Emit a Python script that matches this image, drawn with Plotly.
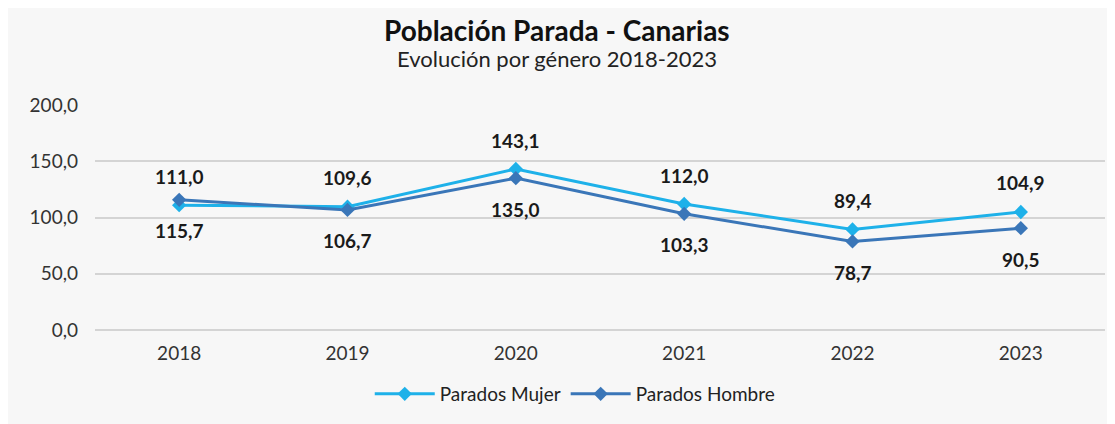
import plotly.graph_objects as go

years = [2018, 2019, 2020, 2021, 2022, 2023]
mujer = [111.0, 109.6, 143.1, 112.0, 89.4, 104.9]
hombre = [115.7, 106.7, 135.0, 103.3, 78.7, 90.5]

c_mujer = "#1eb1e9"
c_hombre = "#3a76b8"
font = "Lato"

fig = go.Figure()
fig.add_trace(go.Scatter(x=years, y=mujer, name="Parados Mujer", mode="lines+markers",
                         line=dict(color=c_mujer, width=3),
                         marker=dict(symbol="diamond", size=11, color=c_mujer)))
fig.add_trace(go.Scatter(x=years, y=hombre, name="Parados Hombre", mode="lines+markers",
                         line=dict(color=c_hombre, width=3),
                         marker=dict(symbol="diamond", size=11, color=c_hombre)))

for x, v in zip(years, mujer):
    fig.add_annotation(x=x, y=v, text=f"{v:.1f}".replace(".", ","), showarrow=False,
                       yshift=29, font=dict(family=font, size=19, color="#1a1a1a", weight="bold"))
for x, v in zip(years, hombre):
    fig.add_annotation(x=x, y=v, text=f"{v:.1f}".replace(".", ","), showarrow=False,
                       yshift=-31, font=dict(family=font, size=19, color="#1a1a1a", weight="bold"))

fig.add_annotation(x=0.457, y=1, xref="paper", yref="paper", xanchor="center", yanchor="middle",
                   yshift=75, showarrow=False, text="<b>Población Parada - Canarias</b>",
                   font=dict(family=font, size=28, color="#111"))
fig.add_annotation(x=0.457, y=1, xref="paper", yref="paper", xanchor="center", yanchor="middle",
                   yshift=47, showarrow=False, text="Evolución por género 2018-2023",
                   font=dict(family=font, size=22, color="#222"))

fig.update_layout(
    width=1115, height=424,
    paper_bgcolor="#f7f7f7", plot_bgcolor="#f7f7f7",
    margin=dict(l=87, r=18, t=97, b=102),
    separators=",.",
    showlegend=True,
    legend=dict(orientation="h", x=0.475, xanchor="center", y=-0.2, yanchor="top",
                font=dict(family=font, size=19, color="#222"), bgcolor="rgba(0,0,0,0)",
                itemwidth=60),
    xaxis=dict(type="linear", range=[2017.5, 2023.5], dtick=1, tickformat="d",
               showgrid=False, showline=False, ticks="", zeroline=False,
               ticklabelstandoff=10,
               tickfont=dict(family=font, size=19, color="#333")),
    yaxis=dict(range=[0, 200], dtick=50, tickformat=".1f", showgrid=True, gridcolor="#d4d4d4",
               gridwidth=1.5, zeroline=True, zerolinecolor="#d4d4d4", zerolinewidth=1.5,
               ticks="", ticklabelstandoff=16,
               tickfont=dict(family=font, size=19, color="#333")),
)
fig.write_html("out.html")
